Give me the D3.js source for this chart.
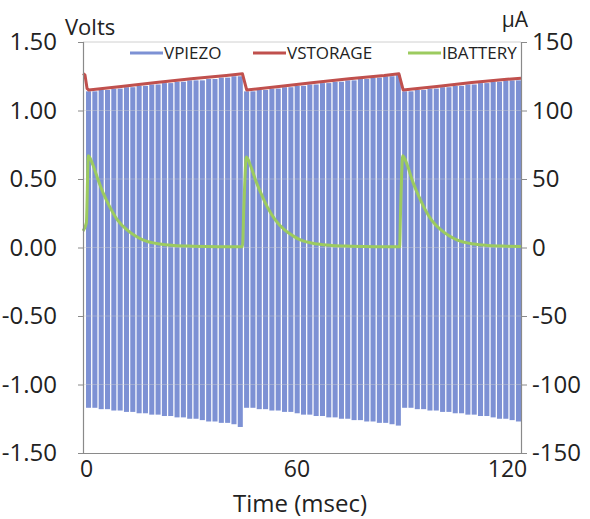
<!DOCTYPE html>
<html>
<head>
<meta charset="utf-8">
<script src="https://cdn.jsdelivr.net/npm/d3@7"></script>
<style>
  body { margin: 0; background: #fff; }
  svg text { font-family: "Open Sans", "Noto Sans", sans-serif; fill: #222; }
</style>
</head>
<body>
<svg id="chart" width="590" height="519"></svg>
<script>
// VPIEZO: positive / negative peak of each piezo cycle (Volts)
const piezoTop = [
  1.14, 1.14, 1.15, 1.15, 1.16, 1.16, 1.17, 1.17, 1.18, 1.18, 1.19, 1.19, 1.20,
  1.20, 1.21, 1.21, 1.22, 1.22, 1.22, 1.23, 1.23, 1.24, 1.24, 1.25, 1.25,
  1.14, 1.14, 1.15, 1.15, 1.16, 1.16, 1.17, 1.17, 1.18, 1.18, 1.19, 1.19, 1.20,
  1.20, 1.21, 1.21, 1.22, 1.22, 1.23, 1.23, 1.24, 1.24, 1.25, 1.25, 1.26,
  1.14, 1.14, 1.15, 1.15, 1.16, 1.16, 1.17, 1.17, 1.18, 1.18, 1.19, 1.19, 1.20,
  1.20, 1.21, 1.21, 1.22, 1.22, 1.22
];
const piezoBottom = [
  -1.17, -1.17, -1.18, -1.18, -1.19, -1.19, -1.20, -1.20, -1.21, -1.21, -1.22, -1.22, -1.23,
  -1.23, -1.24, -1.24, -1.25, -1.25, -1.26, -1.27, -1.27, -1.28, -1.28, -1.29, -1.31,
  -1.17, -1.17, -1.18, -1.18, -1.19, -1.19, -1.20, -1.20, -1.21, -1.22, -1.22, -1.23, -1.23,
  -1.24, -1.24, -1.25, -1.25, -1.26, -1.26, -1.27, -1.27, -1.28, -1.28, -1.29, -1.30,
  -1.17, -1.17, -1.18, -1.18, -1.19, -1.19, -1.20, -1.20, -1.21, -1.21, -1.22, -1.22, -1.23,
  -1.23, -1.24, -1.25, -1.25, -1.26, -1.27
];

// VSTORAGE [msec, Volts]
const vStorage = [
  [-0.86, 1.27], [-0.3, 1.26], [0.3, 1.16], [0.8, 1.15], [10, 1.175], [20, 1.205],
  [30, 1.232], [40, 1.255], [44.6, 1.268], [45.8, 1.15], [55, 1.175], [65, 1.205],
  [75, 1.232], [85, 1.255], [89.2, 1.268], [90.4, 1.15], [100, 1.175], [110, 1.205],
  [120, 1.228], [124, 1.235]
];

// IBATTERY [msec, uA]
const iBattery = [
  [-0.86, 12], [0.1, 18], [0.66, 67], [2.0, 60], [3.5, 49], [4.85, 40], [6.8, 29.5],
  [9, 20], [11.7, 12.8], [14, 8.5], [16.2, 5.5], [21, 2.5], [25, 1.5], [30.5, 1], [44.6, 0.5],
  [45.0, 30], [45.7, 66], [47, 59], [48.5, 48], [49.8, 40], [51.7, 29.5], [54, 20],
  [56.6, 12.8], [59, 8.5], [61.1, 5.5], [66, 2.5], [70, 1.5], [75.5, 1], [89.4, 0.5],
  [89.7, 30], [90.3, 67], [91.6, 60], [93, 49], [94.4, 40], [96.3, 29.5], [98.5, 20],
  [101.2, 12.8], [103.5, 8.5], [105.7, 5.5], [110.5, 2.5], [114.5, 1.5], [120, 1], [124, 0.8]
];

const xTicks = [0, 60, 120];
const voltTicks = [1.5, 1.0, 0.5, 0.0, -0.5, -1.0, -1.5];
const voltLabels = ["1.50", "1.00", "0.50", "0.00", "-0.50", "-1.00", "-1.50"];
const ampTicks = [150, 100, 50, 0, -50, -100, -150];
const ampLabels = ["150", "100", "50", "0", "-50", "-100", "-150"];
const seriesNames = ["VPIEZO", "VSTORAGE", "IBATTERY"];
const seriesColors = ["#7d91d4", "#c0504d", "#9ccb5f"];

const svg = d3.select("#chart");
const plotL = 83, plotR = 521, plotT = 42, plotB = 453;

const x = d3.scaleLinear().domain([-0.86, 124]).range([plotL, plotR]);
const yV = d3.scaleLinear().domain([-1.5, 1.5]).range([plotB, plotT]);
const yA = d3.scaleLinear().domain([-150, 150]).range([plotB, plotT]);

// one band per piezo cycle
const band = d3.scaleBand()
  .domain(d3.range(piezoTop.length))
  .range([x(0), x(124)])
  .paddingInner(0.2)
  .paddingOuter(0);

// piezo cycles
svg.append("g")
  .selectAll("rect")
  .data(piezoTop)
  .enter()
  .append("rect")
  .attr("x", (d, i) => band(i))
  .attr("width", band.bandwidth())
  .attr("y", (d) => yV(d))
  .attr("height", (d, i) => yV(piezoBottom[i]) - yV(d))
  .attr("fill", seriesColors[0]);

// gridlines (faint, showing through)
svg.append("g")
  .selectAll("line")
  .data(voltTicks.filter((d) => d > -1.5))
  .enter()
  .append("line")
  .attr("x1", plotL)
  .attr("x2", plotR)
  .attr("y1", (d) => yV(d))
  .attr("y2", (d) => yV(d))
  .attr("stroke", "#d0d0d0")
  .attr("stroke-opacity", (d) => (d === 1.5 ? 1 : 0.4))
  .attr("stroke-width", 1);

const line = d3.line().x((d) => x(d[0]));

svg.append("path")
  .datum(vStorage)
  .attr("d", line.y((d) => yV(d[1])).curve(d3.curveLinear))
  .attr("fill", "none")
  .attr("stroke", seriesColors[1])
  .attr("stroke-width", 3)
  .attr("stroke-linejoin", "round");

svg.append("path")
  .datum(iBattery)
  .attr("d", line.y((d) => yA(d[1])).curve(d3.curveMonotoneX))
  .attr("fill", "none")
  .attr("stroke", seriesColors[2])
  .attr("stroke-width", 3)
  .attr("stroke-linejoin", "round");

// axes
const axisColor = "#8a8a8a";
const leftAxis = svg.append("g")
  .attr("transform", `translate(${plotL},0)`)
  .call(d3.axisLeft(yV).tickValues(voltTicks).tickSize(5)
    .tickFormat((d, i) => voltLabels[i]).tickPadding(21));
const rightAxis = svg.append("g")
  .attr("transform", `translate(${plotR},0)`)
  .call(d3.axisRight(yA).tickValues(ampTicks).tickSize(6)
    .tickFormat((d, i) => ampLabels[i]).tickPadding(5));
const bottomAxis = svg.append("g")
  .attr("transform", `translate(0,${plotB})`)
  .call(d3.axisBottom(x).tickValues(xTicks).tickSize(0).tickPadding(8));

[leftAxis, rightAxis, bottomAxis].forEach((g) => {
  g.select(".domain").attr("stroke", axisColor).attr("stroke-width", 1.2);
  g.selectAll(".tick line").attr("stroke", axisColor);
  g.selectAll(".tick text")
    .attr("font-size", 24)
    .attr("font-family", "'Open Sans', sans-serif")
    .attr("fill", "#222");
});
bottomAxis.selectAll(".tick text").attr("dy", "0.71em").attr("font-size", 23);

svg.append("text")
  .attr("x", 65).attr("y", 35)
  .attr("font-size", 22)
  .text("Volts");

svg.append("text")
  .attr("x", 528).attr("y", 27)
  .attr("text-anchor", "end")
  .attr("font-size", 21)
  .text("μA");

svg.append("text")
  .attr("x", 300).attr("y", 512)
  .attr("text-anchor", "middle")
  .attr("font-size", 24)
  .text("Time (msec)");

// legend
const legendX = [130, 253, 408];
const legend = svg.append("g")
  .selectAll("g")
  .data(seriesNames)
  .enter()
  .append("g")
  .attr("transform", (d, i) => `translate(${legendX[i]},53)`);
legend.append("line")
  .attr("x1", 0).attr("x2", 33)
  .attr("stroke", (d, i) => seriesColors[i])
  .attr("stroke-width", 3);
legend.append("text")
  .attr("x", 34).attr("y", 6)
  .attr("font-size", 17)
  .text((d) => d);
</script>
</body>
</html>
